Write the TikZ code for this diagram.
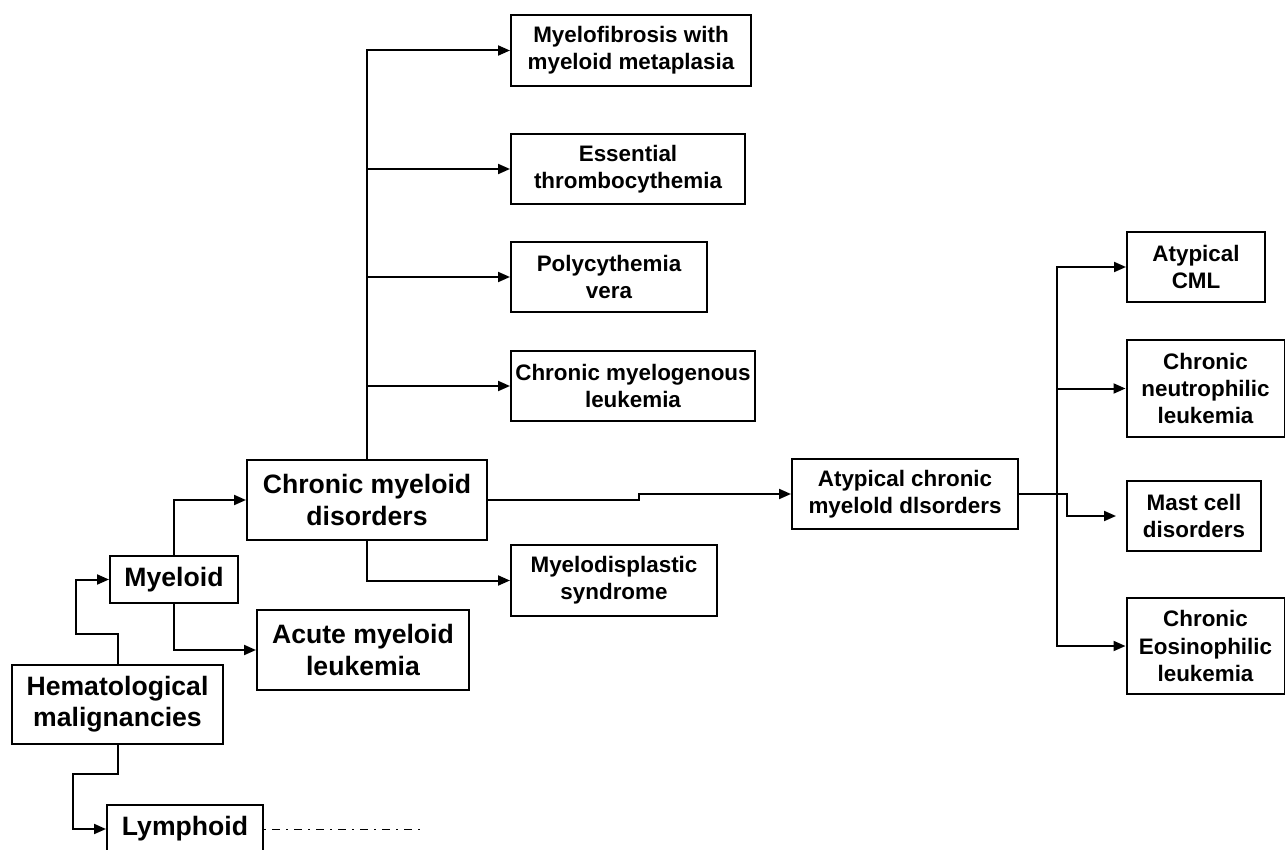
\documentclass[tikz,border=0pt]{standalone}
\usepackage{fontspec}
\setmainfont{Liberation Sans}
\usetikzlibrary{arrows.meta}

\begin{document}
\begin{tikzpicture}[x=0.5pt, y=-0.5pt,
  big/.style = {draw, line width=1pt, align=center, inner sep=0pt, font=\fontsize{13.3}{15.6}\selectfont\bfseries},
  small/.style = {draw, line width=1pt, align=center, inner sep=0pt, font=\fontsize{11.2}{13.6}\selectfont\bfseries},
  arr/.style = {line width=1pt, -{Triangle[length=6pt, width=5pt]}}]
\useasboundingbox (0,0) rectangle (1285,850);

% left part
\node [big, minimum width=105.5pt, minimum height=39.5pt] (hem) at (117.5,704.5) {Hematological\\malignancies};
\node [big, minimum width=64pt, minimum height=23.5pt] (myeloid) at (174,579.5) {Myeloid};
\node [big, minimum width=78pt, minimum height=24pt] (lymphoid) at (185,829) {Lymphoid};
\node [big, minimum width=106pt, minimum height=40pt] (aml) at (363,650) {Acute myeloid\\leukemia};
\node [big, minimum width=120pt, minimum height=40pt] (cmd) at (367,500) {Chronic myeloid\\disorders};

% middle column
\node [small, minimum width=120pt, minimum height=35.5pt] (mf) at (631,50.5) {Myelofibrosis with\\myeloid metaplasia};
\node [small, minimum width=117pt, minimum height=35pt] (et) at (628,169) {Essential\\thrombocythemia};
\node [small, minimum width=98pt, minimum height=35pt] (pv) at (609,277) {Polycythemia\\vera};
\node [small, minimum width=122pt, minimum height=35pt] (cml) at (633,386) {Chronic myelogenous\\leukemia};
\node [small, minimum width=103pt, minimum height=35.5pt] (mds) at (614,580.5) {Myelodisplastic\\syndrome};
\node [small, minimum width=113pt, minimum height=35pt] (acmd) at (905,494) {Atypical chronic\\myelold dlsorders};

% right column
\node [small, minimum width=69pt, minimum height=35pt] (acml) at (1196,267) {Atypical\\CML};
\node [small, minimum width=79pt, minimum height=48.5pt] (cnl) at (1205.5,388.5) {Chronic\\neutrophilic\\leukemia};
\node [small, minimum width=67pt, minimum height=35pt] (mast) at (1194,516) {Mast cell\\disorders};
\node [small, minimum width=79pt, minimum height=48pt] (eos) at (1205.5,646) {Chronic\\Eosinophilic\\leukemia};

\draw [arr] (hem.north) |- (76,634) |- (myeloid.west);
\draw [arr] (hem.south) |- (73,774) |- (lymphoid.west);
\draw [line width=0.5pt, dash pattern=on 1pt off 3pt on 4pt off 3pt] (lymphoid.east) -- (425,829);
\draw [arr] (myeloid.south) |- (aml.west);
\draw [arr] (myeloid.north) |- (cmd.west);
\foreach \n in {mf,et,pv,cml,mds}{
\draw [arr] (cmd) |- (\n.west);
}
\node [big, minimum width=120pt, minimum height=40pt, fill=white] at (cmd) {Chronic myeloid\\disorders};
\draw [arr] (cmd.east) -- (639,500) |- (acmd.west);
\coordinate (split) at (1057,494);
\foreach \n in {acml,cnl,eos}{
\draw [arr] (acmd.east) -- (split) |- (\n.west);
}
\draw [arr, shorten >=5pt] (acmd.east) -- (1067,494) |- (mast.west);
\end{tikzpicture}
\end{document}
